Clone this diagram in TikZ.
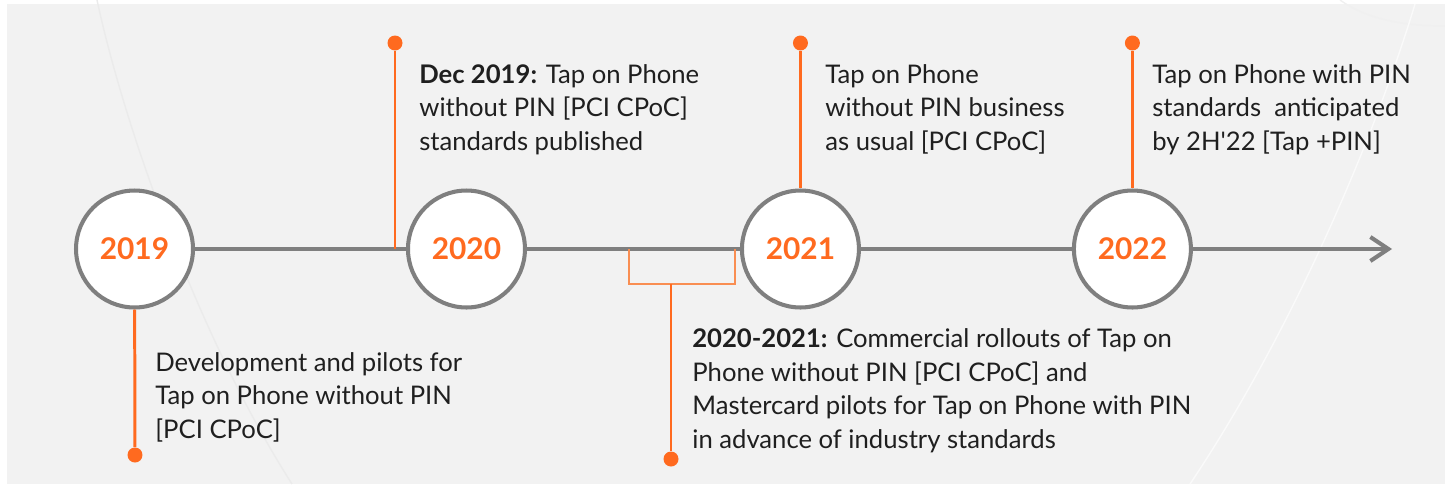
\documentclass[tikz,border=0pt]{standalone}
\usepackage{fontspec}
\setmainfont{Lato}
\newfontfamily\plainlato{Lato}[Ligatures=ResetAll]
\usepackage{xcolor}
\usepackage{tikz}
\usetikzlibrary{arrows.meta}
\usetikzlibrary{positioning}
\definecolor{tlorange}{HTML}{FF6A1F}
\definecolor{tllight}{HTML}{F98E52}
\definecolor{tlgray}{HTML}{7F7F7F}
\definecolor{tlbg}{HTML}{F2F2F2}
\definecolor{tltext}{HTML}{1F1F1F}
\tikzstyle{year} = [circle, draw=tlgray, line width=2.3pt, fill=white, minimum size=2.34cm, inner sep=0pt, text=tlorange, font=\fontsize{17}{20}\selectfont\bfseries]
\tikzstyle{dot} = [circle, fill=tlorange, minimum size=0.3cm, inner sep=0pt]
\tikzstyle{stem} = [tlorange, line width=1.7pt]
\tikzstyle{axis} = [tlgray, line width=2.3pt]
\tikzstyle{note} = [anchor=base west, align=left, inner sep=0pt, text=tltext, font=\fontsize{14.6}{19}\selectfont]
\tikzstyle{deco} = [line width=0.8pt]

\begin{document}
\begin{tikzpicture}[x=0.02cm, y=-0.02cm, node distance=4.22cm]
\useasboundingbox (0,0) rectangle (1445,484);
\fill[tlbg] (7,4) rectangle (1445,484);
% faint background arcs
\draw[deco, draw=black!8] (97,0) .. controls (125,130) and (200,340) .. (292,484);
\draw[deco, draw=black!6] (1340,0) .. controls (1365,18) and (1400,26) .. (1445,26);
\draw[deco, draw=black!2] (1190,484) .. controls (1300,320) and (1380,120) .. (1415,4);

% years
\node[year] (y2019) at (134.5,249) {2019};
\node[year, right=of y2019] (y2020) {2020};
\node[year, right=4.26cm of y2020] (y2021) {2021};
\node[year, right=of y2021] (y2022) {2022};
\coordinate (tend) at (1392,249);
\draw[axis] (y2019) -- (y2020);
\draw[axis] (y2020) -- (y2021);
\draw[axis] (y2021) -- (y2022);
\draw[axis, -{Straight Barb[length=0.36cm, width=0.48cm]}] (y2022) -- (tend);

% stems and dots
\node[dot] (d2019) at (135,455) {};
\draw[stem] (y2019) -- (d2019);
\node[dot] (d2020) at (395,43) {};
\coordinate (c2020) at (395,249);
\draw[stem] (c2020) -- (d2020);
\node[dot] (d2021) at (y2021 |- d2020) {};
\draw[stem] (y2021) -- (d2021);
\node[dot] (d2022) at (y2022 |- d2020) {};
\draw[stem] (y2022) -- (d2022);

% bracket 2020-2021
\coordinate (bl) at (629,249);
\coordinate (br) at (735,249);
\coordinate (bm) at (671,284);
\draw[tllight, line width=1.1pt] (bl) -- ++(0,35) -| (br);
\node[dot] (d2121) at (671,459) {};
\draw[stem] (bm) -- (d2121);

% texts (base = last line)
\node[note] (t2019) at (155,438) {Development and pilots for\\Tap on Phone without PIN\\{}[PCI CPoC]};
\node[note] (t2020) at (419,150) {\textbf{Dec 2019:} Tap on Phone\\without PIN [PCI CPoC]\\standards published};
\node[note] (t2021) at (825,150) {Tap on Phone\\without PIN business\\as usual [PCI CPoC]};
\node[note] (t2022) at (1152,150) {Tap on Phone with PIN\\standards\ \ anticipated\\by 2H{\plainlato'}22 [Tap +PIN]};
\node[note] (t2121) at (692,448) {\textbf{2020-2021:} Commercial rollouts of Tap on\\Phone without PIN [PCI CPoC] and\\Mastercard pilots for Tap on Phone with PIN\\in advance of industry standards};
\end{tikzpicture}
\end{document}
